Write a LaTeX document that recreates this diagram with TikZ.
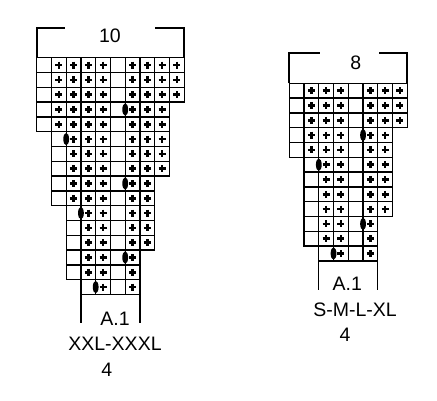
\documentclass[tikz,border=0pt]{standalone}
\usepackage{fontspec}
\setmainfont{Liberation Sans}
\def\cw{14.75}
\def\ch{14.8}
\newcommand\crow[7]{%
  % #1 x0, #2 y0, #3 row, #4 start col, #5 end col, #6 plus cols, #7 ellipse col (0 = none)
  \foreach \c in {#4,...,#5}{%
    \draw[cellst] ({#1+(\c-1)*\cw},{#2+(#3-1)*\ch}) rectangle ++(\cw,\ch);
  }%
  \foreach \c in {#6}{%
    \draw[plusst] ({#1+(\c-0.5)*\cw-3.5},{#2+(#3-0.5)*\ch}) -- ++(7,0)
                  ({#1+(\c-0.5)*\cw},{#2+(#3-0.5)*\ch-3.5}) -- ++(0,7);
  }%
  \ifnum#7>0
    \fill ({#1+(#7-1)*\cw},{#2+(#3-0.5)*\ch}) ellipse (2.9 and 6.2);
  \fi
}
\begin{document}
\begin{tikzpicture}[x=1pt,y=-1pt,
  cellst/.style={line width=1.25pt},
  plusst/.style={line width=2.5pt},
  brst/.style={line width=1.8pt},
  lbl/.style={anchor=base,inner sep=0pt,font=\fontsize{19.5}{23}\selectfont}]
\useasboundingbox (0,0) rectangle (437,400);
% ---------- left chart (XXL-XXXL) ----------
\def\xa{36.7}\def\ya{57.7}
\crow{\xa}{\ya}{1}{1}{10}{2,3,4,5,7,8,9,10}{0}
\crow{\xa}{\ya}{2}{1}{10}{2,3,4,5,7,8,9,10}{0}
\crow{\xa}{\ya}{3}{1}{10}{2,3,4,5,7,8,9,10}{0}
\crow{\xa}{\ya}{4}{1}{9}{2,3,4,5,7,8,9}{7}
\crow{\xa}{\ya}{5}{1}{9}{2,3,4,5,7,8,9}{0}
\crow{\xa}{\ya}{6}{2}{9}{3,4,5,7,8,9}{3}
\crow{\xa}{\ya}{7}{2}{9}{3,4,5,7,8,9}{0}
\crow{\xa}{\ya}{8}{2}{9}{3,4,5,7,8,9}{0}
\crow{\xa}{\ya}{9}{2}{8}{3,4,5,7,8}{7}
\crow{\xa}{\ya}{10}{2}{8}{3,4,5,7,8}{0}
\crow{\xa}{\ya}{11}{3}{8}{4,5,7,8}{4}
\crow{\xa}{\ya}{12}{3}{8}{4,5,7,8}{0}
\crow{\xa}{\ya}{13}{3}{8}{4,5,7,8}{0}
\crow{\xa}{\ya}{14}{3}{7}{4,5,7}{7}
\crow{\xa}{\ya}{15}{3}{7}{4,5,7}{0}
\crow{\xa}{\ya}{16}{4}{7}{5,7}{5}
\coordinate (la) at ({\xa+3*\cw},{\ya+16*\ch});
\coordinate (lb) at ({\xa+7*\cw},{\ya+16*\ch});
\draw[cellst] (la) -- ++(0,28);
\draw[cellst] (lb) -- ++(0,28);
\draw[brst] (\xa,\ya) -- (\xa,27.7) -- (65,27.7);
\draw[brst] (155,27.7) -- ({\xa+10*\cw},27.7) -- ({\xa+10*\cw},\ya);
\node[lbl] (t10) at (110,42.3) {10};
\node[lbl] (la1) at (115,325) {A.1};
\node[lbl] (lsz) at (115,350) {XXL-XXXL};
\node[lbl] (l4) at (106.7,376.7) {4};
% ---------- right chart (S-M-L-XL) ----------
\def\xb{289.3}\def\yb{83.3}
\crow{\xb}{\yb}{1}{1}{8}{2,3,4,6,7,8}{0}
\crow{\xb}{\yb}{2}{1}{8}{2,3,4,6,7,8}{0}
\crow{\xb}{\yb}{3}{1}{8}{2,3,4,6,7,8}{0}
\crow{\xb}{\yb}{4}{1}{7}{2,3,4,6,7}{6}
\crow{\xb}{\yb}{5}{1}{7}{2,3,4,6,7}{0}
\crow{\xb}{\yb}{6}{2}{7}{3,4,6,7}{3}
\crow{\xb}{\yb}{7}{2}{7}{3,4,6,7}{0}
\crow{\xb}{\yb}{8}{2}{7}{3,4,6,7}{0}
\crow{\xb}{\yb}{9}{2}{7}{3,4,6,7}{0}
\crow{\xb}{\yb}{10}{2}{6}{3,4,6}{6}
\crow{\xb}{\yb}{11}{2}{6}{3,4,6}{0}
\crow{\xb}{\yb}{12}{3}{6}{4,6}{4}
\coordinate (ra) at ({\xb+2*\cw},{\yb+12*\ch});
\coordinate (rb) at ({\xb+6*\cw},{\yb+12*\ch});
\draw[cellst] (ra) -- ++(0,29.5);
\draw[cellst] (rb) -- ++(0,29.5);
\draw[brst] (\xb,\yb) -- (\xb,53.3) -- (320,53.3);
\draw[brst] (379.3,53.3) -- ({\xb+8*\cw},53.3) -- ({\xb+8*\cw},\yb);
\node[lbl] (t8) at (355.7,69.3) {8};
\node[lbl] (ra1) at (347.3,290.7) {A.1};
\node[lbl] (rsz) at (355,316.7) {S-M-L-XL};
\node[lbl] (r4) at (345,341.7) {4};
\end{tikzpicture}
\end{document}
